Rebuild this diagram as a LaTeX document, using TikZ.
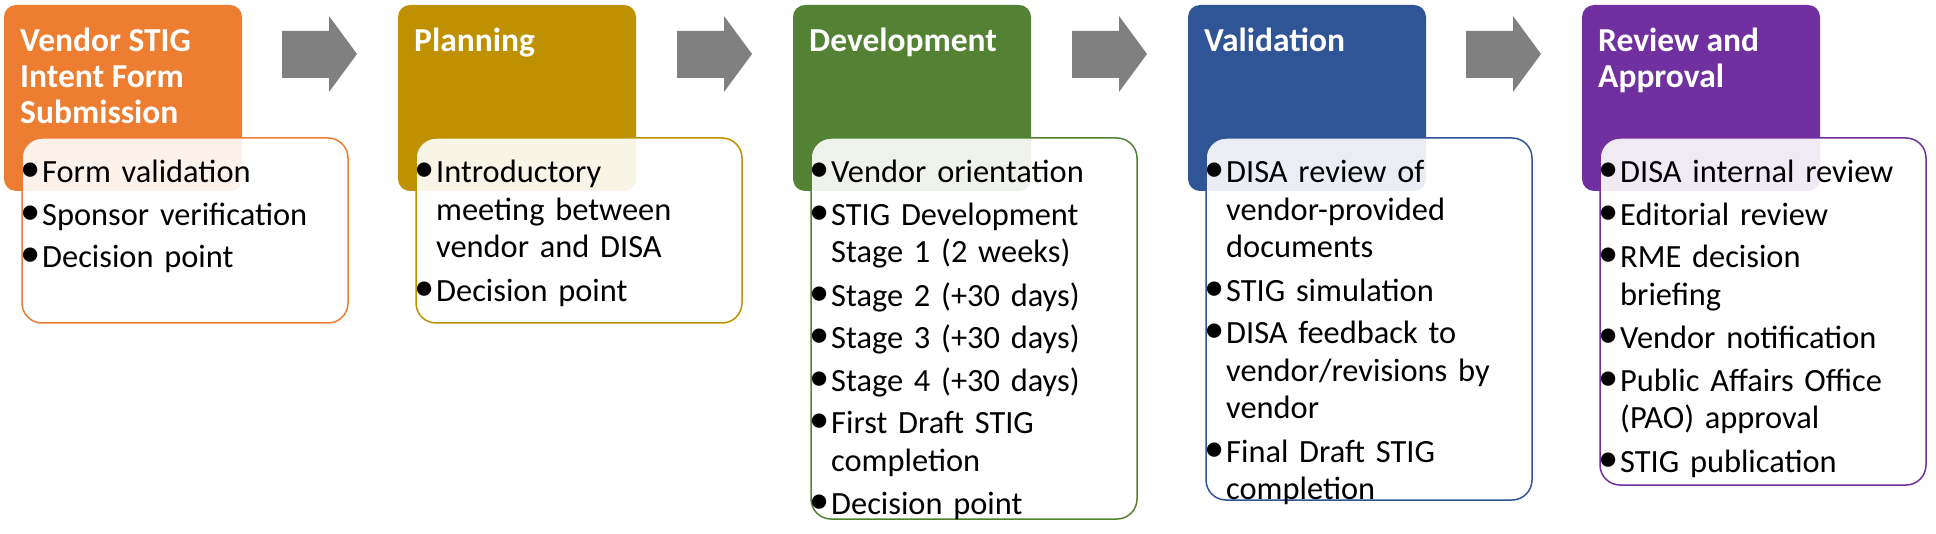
\documentclass[tikz,border=0pt]{standalone}
\usepackage{fontspec}
\setmainfont{Carlito}
\definecolor{corange}{HTML}{ED7D31}
\definecolor{cgold}{HTML}{BF9000}
\definecolor{cgreen}{HTML}{548235}
\definecolor{cblue}{HTML}{2F5597}
\definecolor{cpurple}{HTML}{7030A0}
\definecolor{cgray}{HTML}{808080}
\newcommand{\itm}[1]{\par\noindent\makebox[22pt][l]{\raisebox{1pt}{\scalebox{1.25}{\textbullet}}}\parbox[t]{290pt}{\raggedright\strut #1\strut}\par}
\tikzset{
  headbox/.style={fill=#1, draw=none, rounded corners=12pt},
  bodybox/.style={draw=#1, line width=1.5pt, fill=white, fill opacity=0.9, rounded corners=20pt},
  headtxt/.style={anchor=north west, inner sep=0pt, text=white, font=\fontsize{33.5}{36}\selectfont\bfseries, align=left},
  bodytxt/.style={anchor=north west, inner sep=0pt, text=black, text width=320pt, font=\fontsize{32.4}{37.5}\selectfont, execute at begin node={\setlength{\parskip}{5pt}}}
  ,flowarrow/.style={fill=cgray, draw=none}
}
\newcommand{\stagebox}[6]{%
  \fill[headbox=#2] (#1,5) rectangle ++(238,186);
  \node[headtxt] (#6h) at (#1+16,28) {#3};
  \draw[bodybox=#2] (#1+18,138) rectangle (#1+344,#4);
  \node[bodytxt] (#6b) at (#1+16,140) {#5};
}
\newcommand{\flowarr}[1]{%
  \fill[flowarrow] (#1,31) -- (#1+47,31) -- (#1+47,16) -- (#1+75,54) -- (#1+47,92) -- (#1+47,78) -- (#1,78) -- cycle;
}
\begin{document}
\begin{tikzpicture}[x=1pt,y=-1pt]
\useasboundingbox (0,0) rectangle (1936,534);
\stagebox{4}{corange}{Vendor STIG\\Intent Form\\Submission}{323}{\itm{Form validation}\itm{Sponsor verification}\itm{Decision point}}{s1}
\stagebox{398}{cgold}{Planning}{323}{\itm{Introductory\\meeting between\\vendor and DISA}\itm{Decision point}}{s2}
\stagebox{793}{cgreen}{Development}{519}{\itm{Vendor orientation}\itm{STIG Development\\Stage 1 (2 weeks)}\itm{Stage 2 (+30 days)}\itm{Stage 3 (+30 days)}\itm{Stage 4 (+30 days)}\itm{First Draft STIG\\completion}\itm{Decision point}}{s3}
\stagebox{1188}{cblue}{Validation}{500}{\itm{DISA review of\\vendor-provided\\documents}\itm{STIG simulation}\itm{DISA feedback to\\vendor/revisions by\\vendor}\itm{Final Draft STIG\\completion}}{s4}
\stagebox{1582}{cpurple}{Review and\\Approval}{485}{\itm{DISA internal review}\itm{Editorial review}\itm{RME decision\\briefing}\itm{Vendor notification}\itm{Public Affairs Office\\(PAO) approval}\itm{STIG publication}}{s5}
\flowarr{282}
\flowarr{677}
\flowarr{1072}
\flowarr{1466}
\end{tikzpicture}
\end{document}
